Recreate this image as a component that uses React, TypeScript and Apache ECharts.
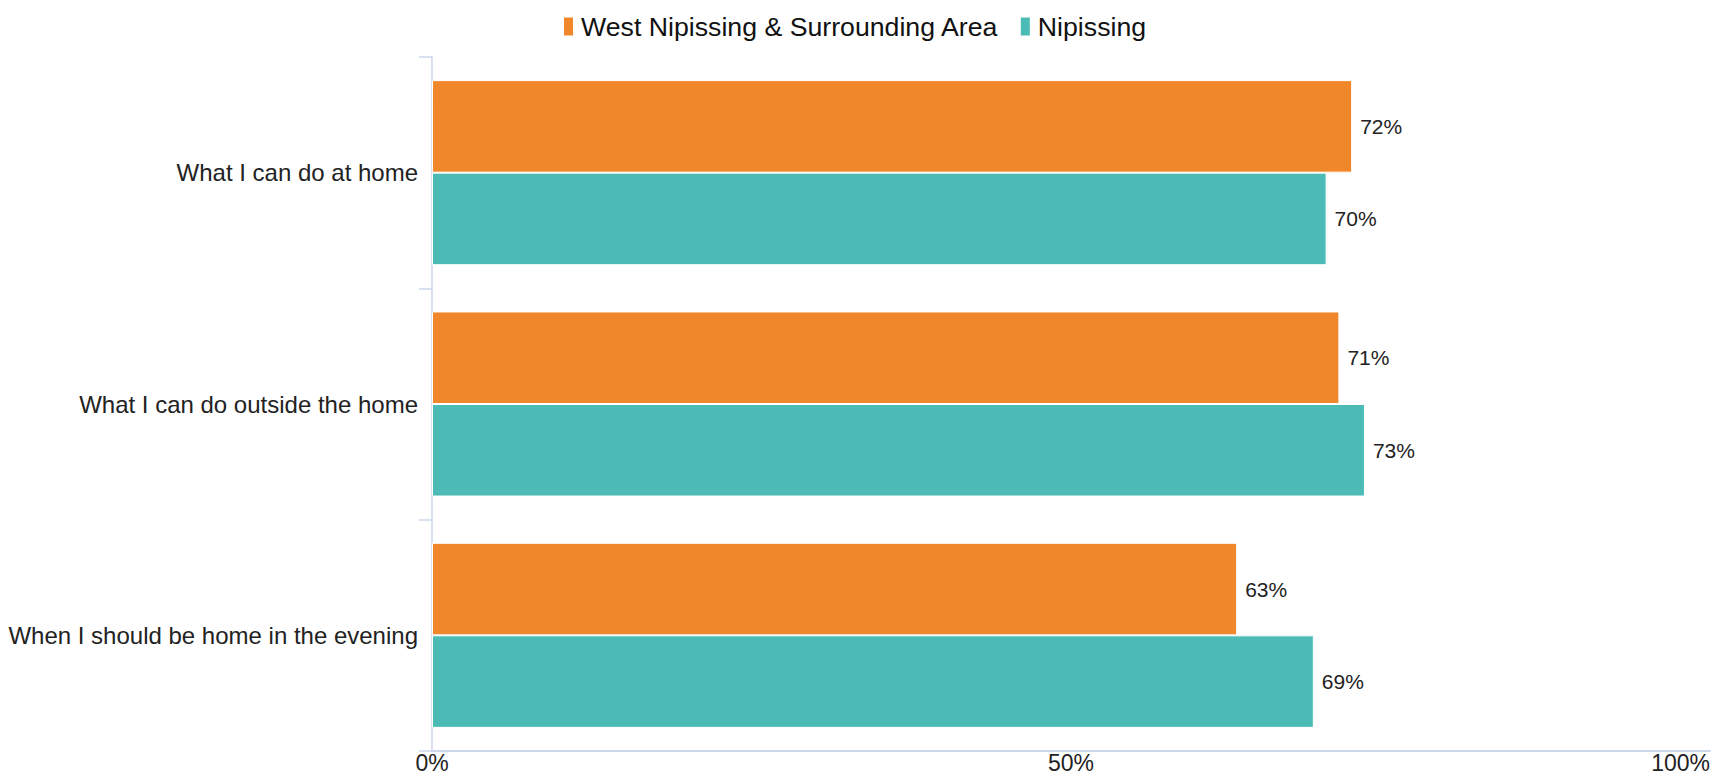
import React, { useEffect, useRef } from "react";
import * as echarts from "echarts";

const categories = [
  "What I can do at home",
  "What I can do outside the home",
  "When I should be home in the evening",
];
const seriesNames = ["West Nipissing & Surrounding Area", "Nipissing"];
const westValues = [72, 71, 63];
const nipissingValues = [70, 73, 69];
const xTicks = [0, 50, 100];

export default function App() {
  const ref = useRef<HTMLDivElement>(null);
  useEffect(() => {
    document.body.style.margin = "0";
    if (!ref.current) return;
    const chart = echarts.init(ref.current, undefined, { renderer: "svg" });
    const font = "Liberation Sans, Arial, sans-serif";
    const labelStyle = {
      show: true,
      position: "right",
      distance: 8,
      fontSize: 21,
      color: "#222",
      fontFamily: font,
      formatter: "{c}%",
    };
    chart.setOption({
      animation: false,
      textStyle: { fontFamily: font },
      legend: {
        top: 8,
        left: 557,
        itemWidth: 11,
        itemHeight: 20,
        itemGap: 20,
        icon: "rect",
        textStyle: { fontSize: 26.7, color: "#111", fontFamily: font, padding: [0, 0, 0, 2] },
        data: seriesNames,
      },
      grid: { left: 432, right: 17, top: 57, bottom: 25, containLabel: false, outerBoundsMode: "none" },
      xAxis: {
        type: "value",
        min: 0,
        max: 100,
        interval: 50,
        axisLine: { show: true, lineStyle: { color: "#ccd6eb", width: 2 } },
        axisTick: { show: false },
        splitLine: { show: false },
        axisLabel: {
          fontSize: 23,
          lineHeight: 22,
          color: "#222",
          margin: 1,
          alignMaxLabel: "right",
          formatter: (v: number) => (xTicks.includes(v) ? v + "%" : ""),
        },
      },
      yAxis: {
        type: "category",
        inverse: true,
        data: categories,
        axisLine: { show: true, lineStyle: { color: "#ccd6eb", width: 1.5 } },
        axisTick: { show: true, length: 13, lineStyle: { color: "#ccd6eb", width: 1.5 } },
        axisLabel: { fontSize: 24, color: "#222", margin: 14 },
      },
      series: [
        {
          name: seriesNames[0],
          type: "bar",
          data: westValues,
          barGap: "0%",
          barCategoryGap: "20%",
          itemStyle: { color: "#f0872a", borderColor: "#fff", borderWidth: 1 },
          label: labelStyle,
        },
        {
          name: seriesNames[1],
          type: "bar",
          data: nipissingValues,
          barGap: "0%",
          barCategoryGap: "20%",
          itemStyle: { color: "#4dbbb5", borderColor: "#fff", borderWidth: 1 },
          label: labelStyle,
        },
      ],
    });
    return () => chart.dispose();
  }, []);
  return <div ref={ref} style={{ width: 1727, height: 776 }} />;
}
